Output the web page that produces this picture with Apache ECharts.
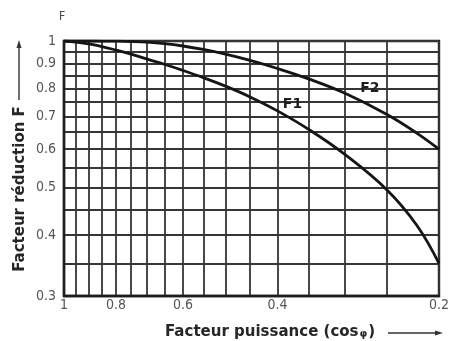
<!DOCTYPE html>
<html>
<head>
<meta charset="utf-8">
<script src="https://cdn.jsdelivr.net/npm/echarts@6/dist/echarts.min.js"></script>
<style>html,body{margin:0;padding:0;background:#fff}#c{width:452px;height:341px}</style>
</head>
<body>
<div id="c"></div>
<script>
// Power factor (cos phi) sample positions
const cosPhi = [1, 0.95, 0.9, 0.85, 0.8, 0.75, 0.7, 0.65, 0.6, 0.55, 0.5, 0.45, 0.4, 0.35, 0.3, 0.25, 0.22, 0.2];
// Reduction factor curves
const f1 = [1.0, 0.995, 0.986, 0.974, 0.958, 0.94, 0.918, 0.896, 0.87, 0.841, 0.808, 0.768, 0.719, 0.659, 0.586, 0.495, 0.419, 0.35];
const f2 = [1.0, 1.0, 1.0, 0.9997, 0.9991, 0.9976, 0.9944, 0.9878, 0.9767, 0.9607, 0.9396, 0.9122, 0.8782, 0.8362, 0.782, 0.7067, 0.6474, 0.6];
// Grid lines and tick labels
const gridX = [1, 0.95, 0.9, 0.85, 0.8, 0.75, 0.7, 0.65, 0.6, 0.55, 0.5, 0.45, 0.4, 0.35, 0.3, 0.25, 0.2];
const gridY = [1, 0.95, 0.9, 0.85, 0.8, 0.75, 0.7, 0.65, 0.6, 0.55, 0.5, 0.45, 0.4, 0.35, 0.3];
const xLabels = [1, 0.8, 0.6, 0.4, 0.2];
const yLabels = [1, 0.9, 0.8, 0.7, 0.6, 0.5, 0.4, 0.3];
const curveLabels = [{name: 'F1', at: [0.375, 0.74]}, {name: 'F2', at: [0.269, 0.8]}];

const narrow = "'Liberation Sans Narrow', 'DejaVu Sans Condensed', sans-serif";
const boldFont = "'DejaVu Sans', sans-serif";

const chart = echarts.init(document.getElementById('c'), null, {renderer: 'canvas'});
const pairs = arr => cosPhi.map((x, i) => [x, arr[i]]);
const curveLabel = c => ({
  symbol: 'circle', symbolSize: 0, data: [{coord: c.at, value: c.name}],
  label: {show: true, formatter: c.name, color: '#1e1e1e', fontFamily: boldFont, fontWeight: 'bold', fontSize: 14}
});

chart.setOption({
  animation: false,
  grid: {left: 64, right: 7, top: 41, bottom: 45, show: true, borderColor: '#1e1e1e', borderWidth: 2.4},
  xAxis: {
    type: 'log', logBase: 10, min: 0.2, max: 1, inverse: true,
    axisLine: {show: true, lineStyle: {color: '#1e1e1e', width: 2.4}},
    axisTick: {show: false, customValues: gridX},
    splitLine: {show: true, lineStyle: {color: '#353535', width: 1.8}},
    axisLabel: {customValues: xLabels, formatter: v => String(v), color: '#555', fontFamily: narrow, fontSize: 14, margin: 2, hideOverlap: false, showMinLabel: true, showMaxLabel: true}
  },
  yAxis: {
    type: 'log', logBase: 10, min: 0.3, max: 1,
    axisLine: {show: true, lineStyle: {color: '#1e1e1e', width: 2.4}},
    axisTick: {show: false, customValues: gridY},
    splitLine: {show: true, lineStyle: {color: '#353535', width: 1.8}},
    axisLabel: {customValues: yLabels, formatter: v => String(v), color: '#555', fontFamily: narrow, fontSize: 14, margin: 8, hideOverlap: false, showMinLabel: true, showMaxLabel: true}
  },
  series: [
    {type: 'line', data: pairs(f1), symbol: 'none', smooth: 0.4, lineStyle: {color: '#151515', width: 2.8}, markPoint: curveLabel(curveLabels[0])},
    {type: 'line', data: pairs(f2), symbol: 'none', smooth: 0.4, lineStyle: {color: '#151515', width: 2.8}, markPoint: curveLabel(curveLabels[1])}
  ],
  graphic: [
    {type: 'text', x: 62, y: 17, style: {text: 'F', fill: '#444', font: '12px ' + narrow, align: 'center', verticalAlign: 'middle'}},
    {type: 'text', x: 20, y: 189, rotation: Math.PI / 2,
      style: {text: 'Facteur réduction F', fill: '#262626', font: 'bold 15px ' + boldFont, align: 'center', verticalAlign: 'middle'}},
    {type: 'line', shape: {x1: 19, y1: 100, x2: 19, y2: 46}, style: {stroke: '#333', lineWidth: 1.4}},
    {type: 'polygon', shape: {points: [[19, 40], [16.5, 48], [21.5, 48]]}, style: {fill: '#333'}},
    {type: 'text', x: 165, y: 332,
      style: {
        text: '{a|Facteur puissance (cos}{b|φ}{a|)}',
        verticalAlign: 'middle', align: 'left',
        rich: {
          a: {font: 'bold 15px ' + boldFont, fill: '#262626'},
          b: {font: 'bold 10px ' + boldFont, fill: '#262626', padding: [5, 1, 0, 1]}
        }
      }},
    {type: 'line', shape: {x1: 388, y1: 333, x2: 436, y2: 333}, style: {stroke: '#333', lineWidth: 1.4}},
    {type: 'polygon', shape: {points: [[443, 333], [435, 330.5], [435, 335.5]]}, style: {fill: '#333'}}
  ]
});
</script>
</body>
</html>
